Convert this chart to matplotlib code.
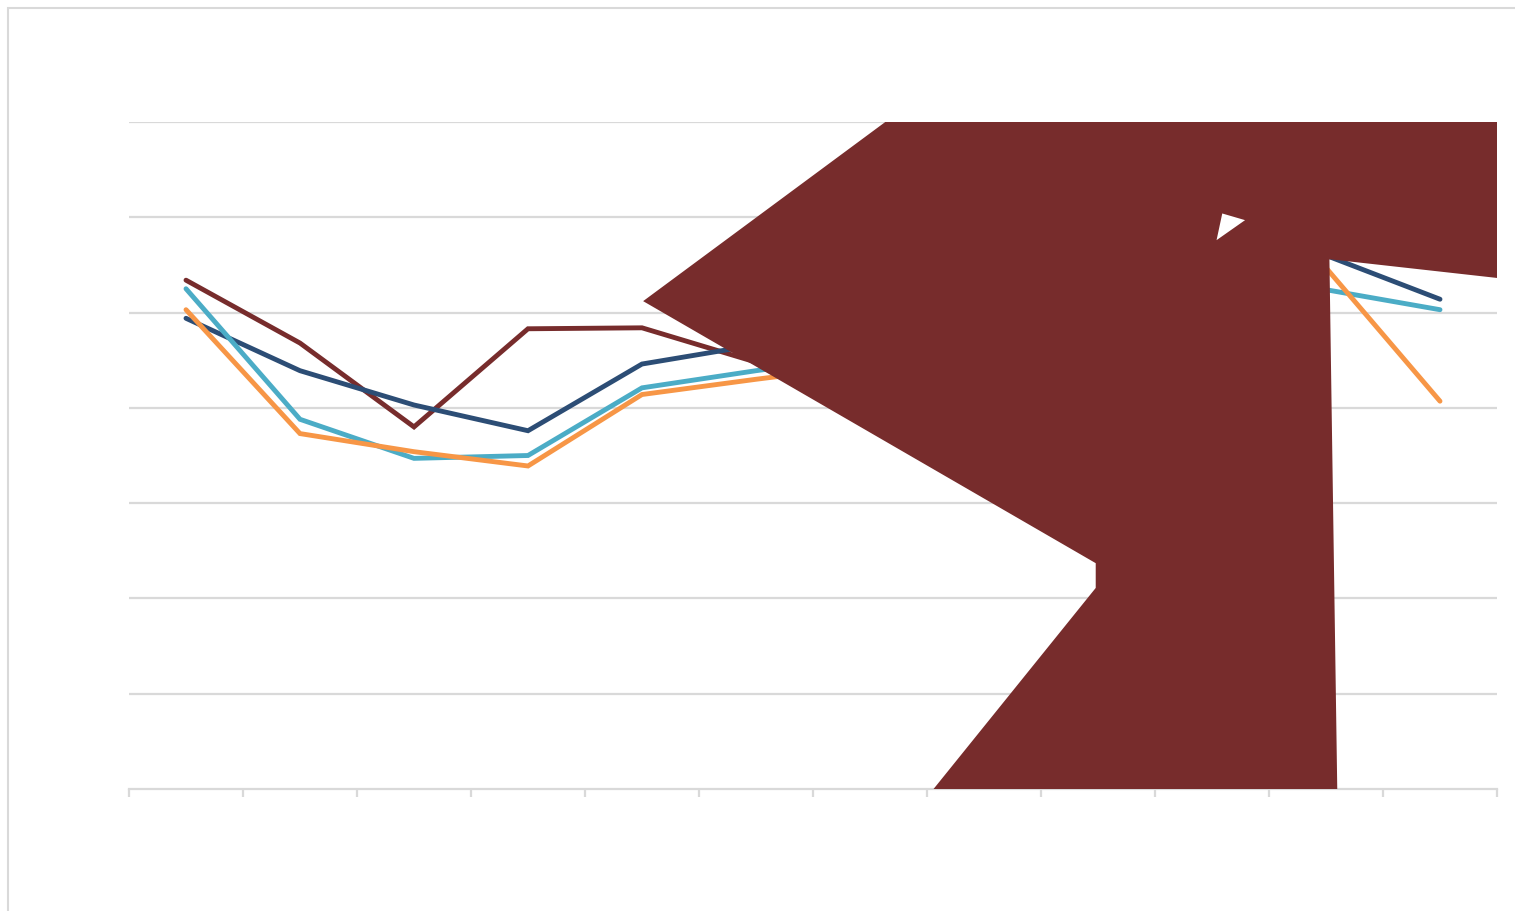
import matplotlib
matplotlib.use('Agg')
import matplotlib.pyplot as plt
import numpy as np
from matplotlib.patches import Rectangle

# categories (no labels shown on the chart)
categories = list(range(12))

# series values (middle ones sit under the red shape)
navy   = [4.94, 4.39, 4.03, 3.76, 4.46, 4.66, 4.85, 5.05, 5.25, 5.45, 5.60, 5.14]
teal   = [5.25, 3.88, 3.47, 3.50, 4.21, 4.39, 4.55, 4.70, 4.90, 5.10, 5.24, 5.03]
orange = [5.03, 3.73, 3.54, 3.39, 4.14, 4.30, 4.45, 4.60, 4.85, 5.10, 5.47, 4.07]
red    = [5.34, 4.68, 3.80, 4.83, 4.84, 4.48, 4.70, 5.00, 5.30, 5.60, 5.80, 5.80]

# outline of the big red artifact (category index, value)
blob_x = [4.01, 6.36, 11.6, 11.6, 10.03, 10.10, 6.49, 7.98, 7.98]
blob_y = [5.12, 7.20, 7.20, 5.35, 5.56, -0.1, -0.1, 2.11, 2.37]
gap_x = [9.09, 9.29, 9.04]
gap_y = [6.04, 5.97, 5.76]

colors = {'navy': '#2C4D75', 'teal': '#4BACC6', 'orange': '#F79646', 'red': '#772C2C'}
grid_c = '#D9D9D9'

fig = plt.figure(figsize=(15.15, 9.11), dpi=100)
fig.patches.append(Rectangle((8/1515, -0.1), 1.2, (911-8)/911 + 0.1,
                             transform=fig.transFigure, fill=False,
                             edgecolor=grid_c, linewidth=1.5))
ax = fig.add_axes([129/1515, (911-789)/911, (1497-129)/1515, (789-122)/911])

ax.set_xlim(-0.5, 11.5)
ax.set_ylim(0, 7)
for s in ['top', 'right', 'left']:
    ax.spines[s].set_visible(False)
ax.spines['bottom'].set_color(grid_c)
ax.spines['bottom'].set_linewidth(1.6)
ax.set_yticks(np.arange(1, 8))
ax.set_yticklabels([])
ax.tick_params(axis='y', length=0)
ax.set_xticks(np.arange(-0.5, 12, 1))
ax.set_xticklabels([])
ax.tick_params(axis='x', direction='out', length=6, width=1.6, color=grid_c)
ax.grid(axis='y', color=grid_c, linewidth=1.6, zorder=0)
ax.set_axisbelow(True)

lw = 3.5
for key, vals in [('red', red), ('navy', navy), ('teal', teal), ('orange', orange)]:
    ax.plot(categories, vals, color=colors[key], linewidth=lw,
            solid_capstyle='round', solid_joinstyle='miter', zorder=3)

ax.fill(blob_x, blob_y, color=colors['red'], linewidth=0, zorder=5)
ax.fill(gap_x, gap_y, color='white', linewidth=0, zorder=6)

plt.savefig('out.png', dpi=100)
